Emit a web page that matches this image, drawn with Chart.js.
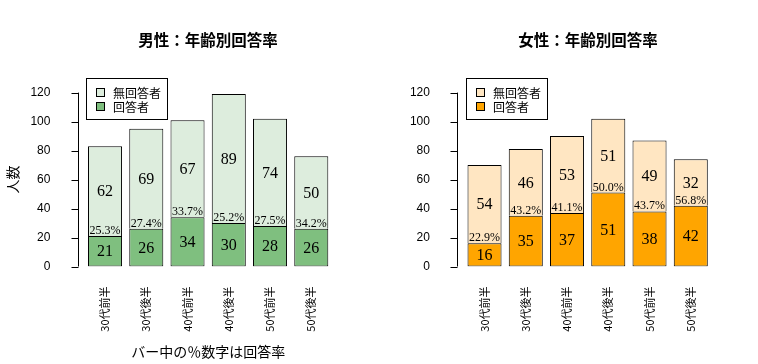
<!DOCTYPE html>
<html>
<head>
<meta charset="utf-8">
<script src="https://cdn.jsdelivr.net/npm/chart.js@4/dist/chart.umd.min.js"></script>
<style>
  body { margin: 0; background: #fff; overflow: hidden; }
  #wrap { position: relative; width: 758px; height: 364px; overflow: hidden; }
  canvas { position: absolute; top: 0; }
</style>
</head>
<body>
<div id="wrap">
  <canvas id="male" width="416" height="364" style="left:0px"></canvas>
  <canvas id="female" width="376" height="364" style="left:400px"></canvas>
</div>
<script>
// 年齢区分
const ageLabels = ["30代前半", "30代後半", "40代前半", "40代後半", "50代前半", "50代後半"];
// 男性
const maleAnswered = [21, 26, 34, 30, 28, 26];
const maleNoAnswer = [62, 69, 67, 89, 74, 50];
// 女性
const femaleAnswered = [16, 35, 37, 51, 38, 42];
const femaleNoAnswer = [54, 46, 53, 51, 49, 32];
const yTicks = [0, 20, 40, 60, 80, 100, 120];

const serif = "'Liberation Serif', 'Times New Roman', serif";
const jp = "'Noto Sans CJK JP', sans-serif";

// R風のY軸（プロット領域から少し離す）とバー内の数字、凡例
const rStyle = {
  id: "rStyle",
  afterDatasetsDraw(chart) {
    const ctx = chart.ctx;
    const y = chart.scales.y;
    const area = chart.chartArea;
    ctx.save();
    // y axis
    const ax = Math.round(area.left - 6.5) + 0.5;
    ctx.strokeStyle = "#000";
    ctx.lineWidth = 1;
    ctx.beginPath();
    ctx.moveTo(ax, y.getPixelForValue(0));
    ctx.lineTo(ax, y.getPixelForValue(120));
    yTicks.forEach((v) => {
      const py = Math.round(y.getPixelForValue(v)) + 0.5;
      ctx.moveTo(ax, py);
      ctx.lineTo(ax - 7, py);
    });
    ctx.stroke();

    // counts and percentages
    const ans = chart.data.datasets[0].data;
    const non = chart.data.datasets[1].data;
    ctx.fillStyle = "#000";
    ctx.textAlign = "center";
    [0, 1].forEach((d) => {
      chart.getDatasetMeta(d).data.forEach((bar, i) => {
        ctx.font = "16px " + serif;
        ctx.textBaseline = "middle";
        ctx.fillText(String(chart.data.datasets[d].data[i]), bar.x, (bar.y + bar.base) / 2 + 1);
      });
    });
    chart.getDatasetMeta(0).data.forEach((bar, i) => {
      const pct = (ans[i] / (ans[i] + non[i])) * 100;
      ctx.font = "12px " + serif;
      ctx.textBaseline = "alphabetic";
      ctx.fillText(pct.toFixed(1) + "%", bar.x, bar.y - 2);
    });

    // legend
    const lx = area.left + 2;
    const ly = 78;
    ctx.strokeRect(Math.round(lx) + 0.5, ly + 0.5, 81, 41);
    const items = [chart.data.datasets[1], chart.data.datasets[0]];
    items.forEach((ds, k) => {
      const cy = ly + 14.5 + k * 14;
      ctx.fillStyle = ds.backgroundColor;
      ctx.fillRect(Math.round(lx) + 10.5, cy - 4, 8, 8);
      ctx.strokeRect(Math.round(lx) + 10.5, cy - 4, 8, 8);
      ctx.fillStyle = "#000";
      ctx.textAlign = "left";
      ctx.textBaseline = "middle";
      ctx.font = "12px " + jp;
      ctx.fillText(ds.label, Math.round(lx) + 27, cy + 1);
    });
    ctx.restore();
  },
};

function makeChart(id, title, answered, noAnswer, colAns, colNon, yWidth, rightWidth, xTitle, yTitle) {
  return new Chart(document.getElementById(id), {
    type: "bar",
    data: {
      labels: ageLabels,
      datasets: [
        {
          label: "回答者",
          data: answered,
          backgroundColor: colAns,
          borderColor: "#000",
          borderWidth: 1,
          borderSkipped: false,
          categoryPercentage: 1,
          barPercentage: 0.825,
        },
        {
          label: "無回答者",
          data: noAnswer,
          backgroundColor: colNon,
          borderColor: "#000",
          borderWidth: { top: 1, left: 1, right: 1, bottom: 0 },
          borderSkipped: false,
          categoryPercentage: 1,
          barPercentage: 0.825,
        },
      ],
    },
    options: {
      responsive: false,
      animation: false,
      devicePixelRatio: 1,
      layout: { padding: 0 },
      plugins: {
        legend: { display: false },
        tooltip: { enabled: false },
        title: {
          display: true,
          text: title,
          color: "#000",
          font: { family: jp, size: 15.5, weight: "bold" },
          padding: { top: 31, bottom: 43 },
        },
      },
      scales: {
        x: {
          stacked: true,
          grid: { display: false },
          border: { display: false },
          ticks: {
            color: "#000",
            font: { family: jp, size: 11 },
            minRotation: 90,
            maxRotation: 90,
            autoSkip: false,
            padding: 12,
          },
          title: {
            display: !!xTitle,
            text: xTitle,
            color: "#000",
            font: { family: jp, size: 14 },
            padding: { top: 0, bottom: 4 },
          },
          afterFit: (s) => { s.height = 97.5; },
        },
        y: {
          stacked: true,
          min: 0,
          max: 120,
          grid: { display: false },
          border: { display: false },
          ticks: {
            stepSize: 20,
            color: "#000",
            font: { family: "'Liberation Sans', Arial, sans-serif", size: 12 },
            padding: 26,
          },
          title: {
            display: !!yTitle,
            text: yTitle,
            color: "#000",
            font: { family: jp, size: 14 },
            padding: { top: 4, bottom: 4 },
          },
          afterFit: (s) => { s.width = yWidth; },
        },
        // 右側の余白（タイトルを描画領域の中央に置くため）
        yRight: {
          position: "right",
          grid: { display: false },
          border: { display: false },
          ticks: { display: false },
          afterFit: (s) => { s.width = rightWidth; },
        },
      },
    },
    plugins: [rStyle],
  });
}

makeChart("male", "男性：年齢別回答率", maleAnswered, maleNoAnswer, "#7fbf7f", "#ddeddd", 84.4, 84.1, "バー中の％数字は回答率", "人数");
makeChart("female", "女性：年齢別回答率", femaleAnswered, femaleNoAnswer, "#ffa500", "#ffe6c2", 63.9, 64.6, "", "");
</script>
</body>
</html>
